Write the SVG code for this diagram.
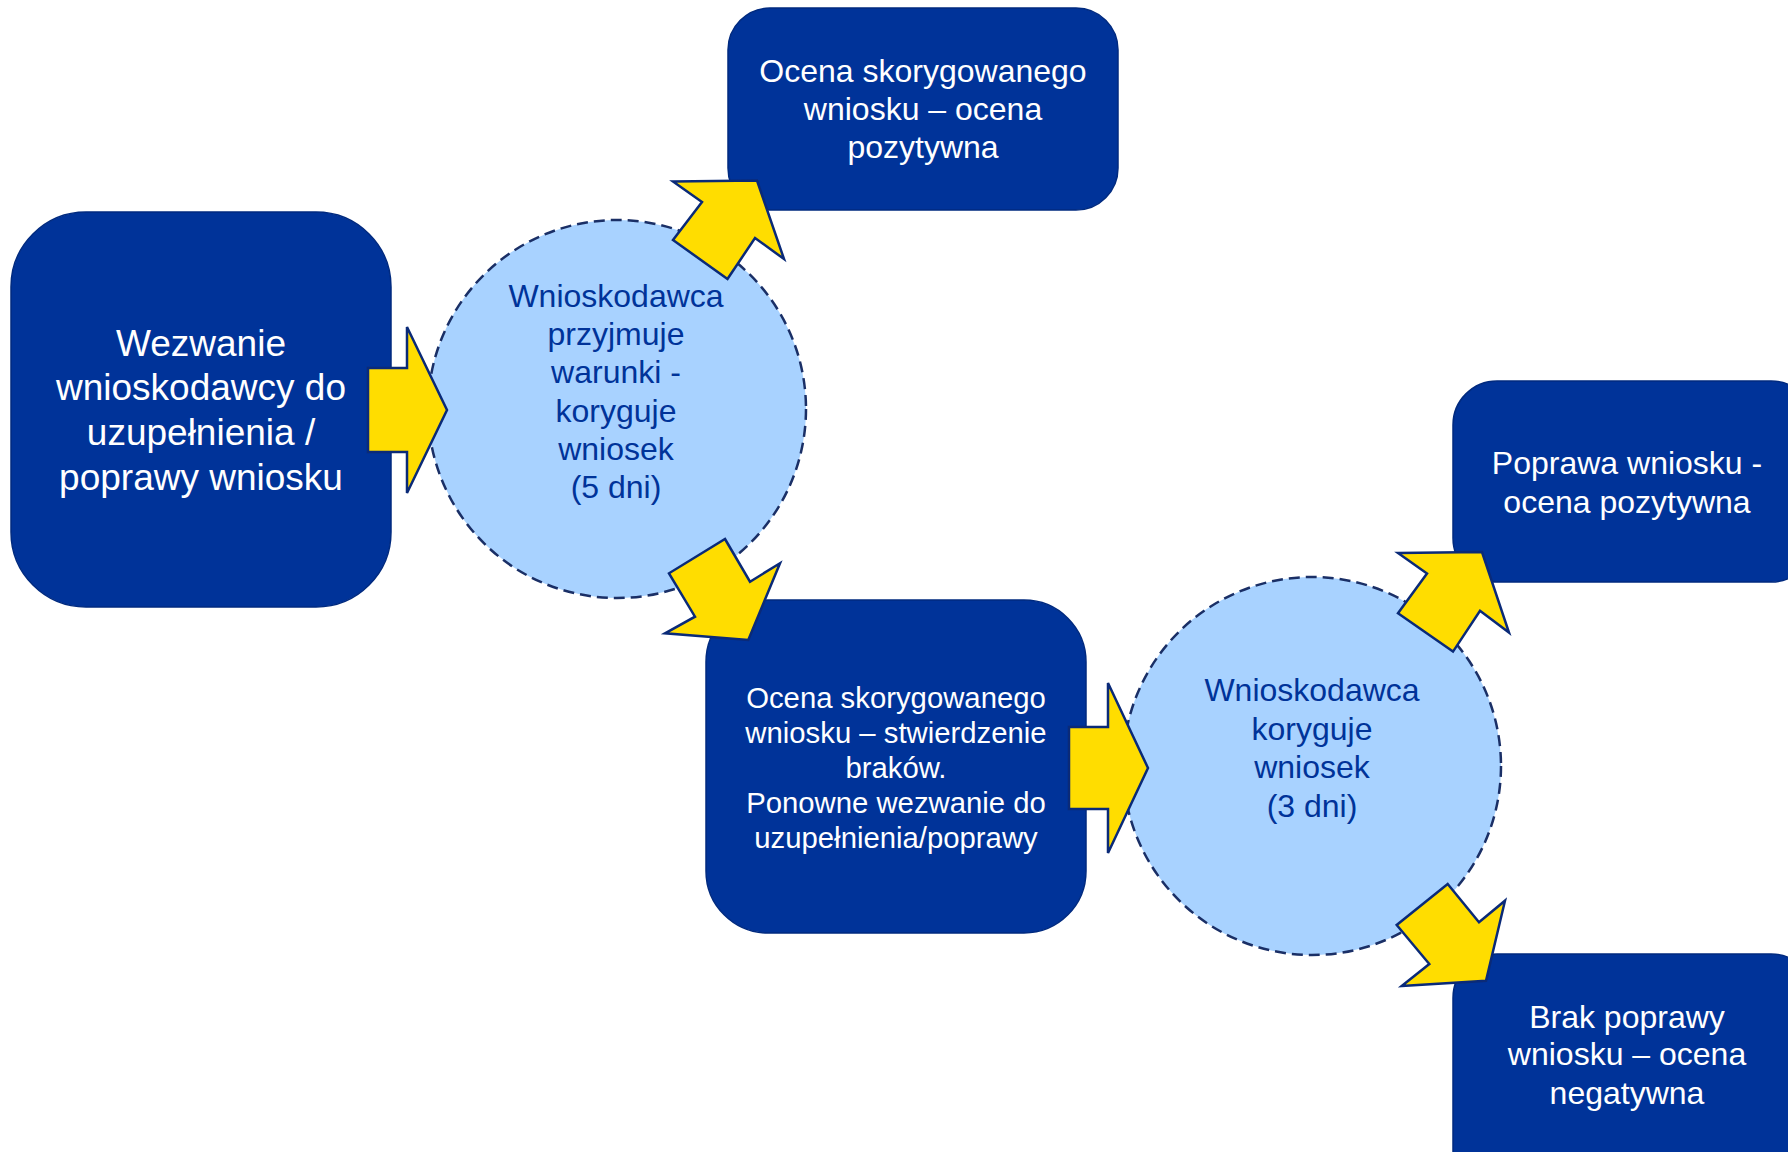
<svg xmlns="http://www.w3.org/2000/svg" width="1788" height="1152" viewBox="0 0 1788 1152">
  <style>
    .box { fill: #003399; stroke: #002a7f; stroke-width: 1.5; }
    .circ { fill: #a8d2ff; stroke: #1a2f66; stroke-width: 2.5; stroke-dasharray: 11 6; }
    .arrow { fill: #ffdd00; stroke: #0a2a78; stroke-width: 2.5; stroke-linejoin: miter; }
    .tw { fill: #ffffff; font-family: "Liberation Sans", Arial, sans-serif; text-anchor: middle; }
    .tb { fill: #003399; font-family: "Liberation Sans", Arial, sans-serif; text-anchor: middle; font-size: 32px; }
  </style>
  <rect width="1788" height="1152" fill="#ffffff"/>

  <g id="node-wezwanie">
    <rect class="box" x="11" y="212" width="380" height="395" rx="75" ry="75"/>
    <text class="tw" font-size="37"><tspan x="201" y="356">Wezwanie</tspan><tspan x="201" y="400">wnioskodawcy do</tspan><tspan x="201" y="445">uzupełnienia /</tspan><tspan x="201" y="490">poprawy wniosku</tspan></text>
  </g>

  <g id="node-circle1">
    <circle class="circ" cx="617" cy="409" r="189"/>
    <text class="tb"><tspan x="616" y="307">Wnioskodawca</tspan><tspan x="616" y="345">przyjmuje</tspan><tspan x="616" y="383">warunki -</tspan><tspan x="616" y="422">koryguje</tspan><tspan x="616" y="460">wniosek</tspan><tspan x="616" y="498">(5 dni)</tspan></text>
  </g>

  <g id="node-ocena-pozytywna">
    <rect class="box" x="728" y="8" width="390" height="202" rx="42" ry="42"/>
    <text class="tw" font-size="32"><tspan x="923" y="82">Ocena skorygowanego</tspan><tspan x="923" y="120">wniosku – ocena</tspan><tspan x="923" y="158">pozytywna</tspan></text>
  </g>

  <g id="node-braki">
    <rect class="box" x="706" y="600" width="380" height="333" rx="62" ry="62"/>
    <text class="tw" font-size="29.3"><tspan x="896" y="708">Ocena skorygowanego</tspan><tspan x="896" y="743">wniosku – stwierdzenie</tspan><tspan x="896" y="778">braków.</tspan><tspan x="896" y="813">Ponowne wezwanie do</tspan><tspan x="896" y="848">uzupełnienia/poprawy</tspan></text>
  </g>

  <g id="node-circle2">
    <circle class="circ" cx="1312" cy="766" r="189"/>
    <text class="tb"><tspan x="1312" y="701">Wnioskodawca</tspan><tspan x="1312" y="740">koryguje</tspan><tspan x="1312" y="778">wniosek</tspan><tspan x="1312" y="817">(3 dni)</tspan></text>
  </g>

  <g id="node-poprawa">
    <rect class="box" x="1453" y="381" width="362" height="201" rx="44" ry="44"/>
    <text class="tw" font-size="32"><tspan x="1627" y="474">Poprawa wniosku -</tspan><tspan x="1627" y="513">ocena pozytywna</tspan></text>
  </g>

  <g id="node-brak-poprawy">
    <rect class="box" x="1453" y="954" width="362" height="240" rx="44" ry="44"/>
    <text class="tw" font-size="32"><tspan x="1627" y="1028">Brak poprawy</tspan><tspan x="1627" y="1065">wniosku – ocena</tspan><tspan x="1627" y="1104">negatywna</tspan></text>
  </g>

  <g id="connectors">
    <polygon class="arrow" points="368,368 407,368 407,327 447,410 407,493 407,452 368,452"/>
    <polygon class="arrow" points="673,181.5 757,180.5 784,259 755,238 727.5,279 673,240 702,202"/>
    <polygon class="arrow" points="725,539 750,581.7 780,563.3 748.3,640 665,633.3 695,616.7 669,573.3"/>
    <polygon class="arrow" points="1069,727 1108,727 1108,683 1148,768 1108,853 1108,809 1069,809"/>
    <polygon class="arrow" points="1398,553 1482,552 1509,632.5 1480,610.7 1453,651.6 1398,613.3 1427,573.5"/>
    <polygon class="arrow" points="1447.7,884 1479,922.3 1505,900.7 1486,980.7 1401.7,986 1429.3,964 1396.7,925"/>
  </g>
</svg>
